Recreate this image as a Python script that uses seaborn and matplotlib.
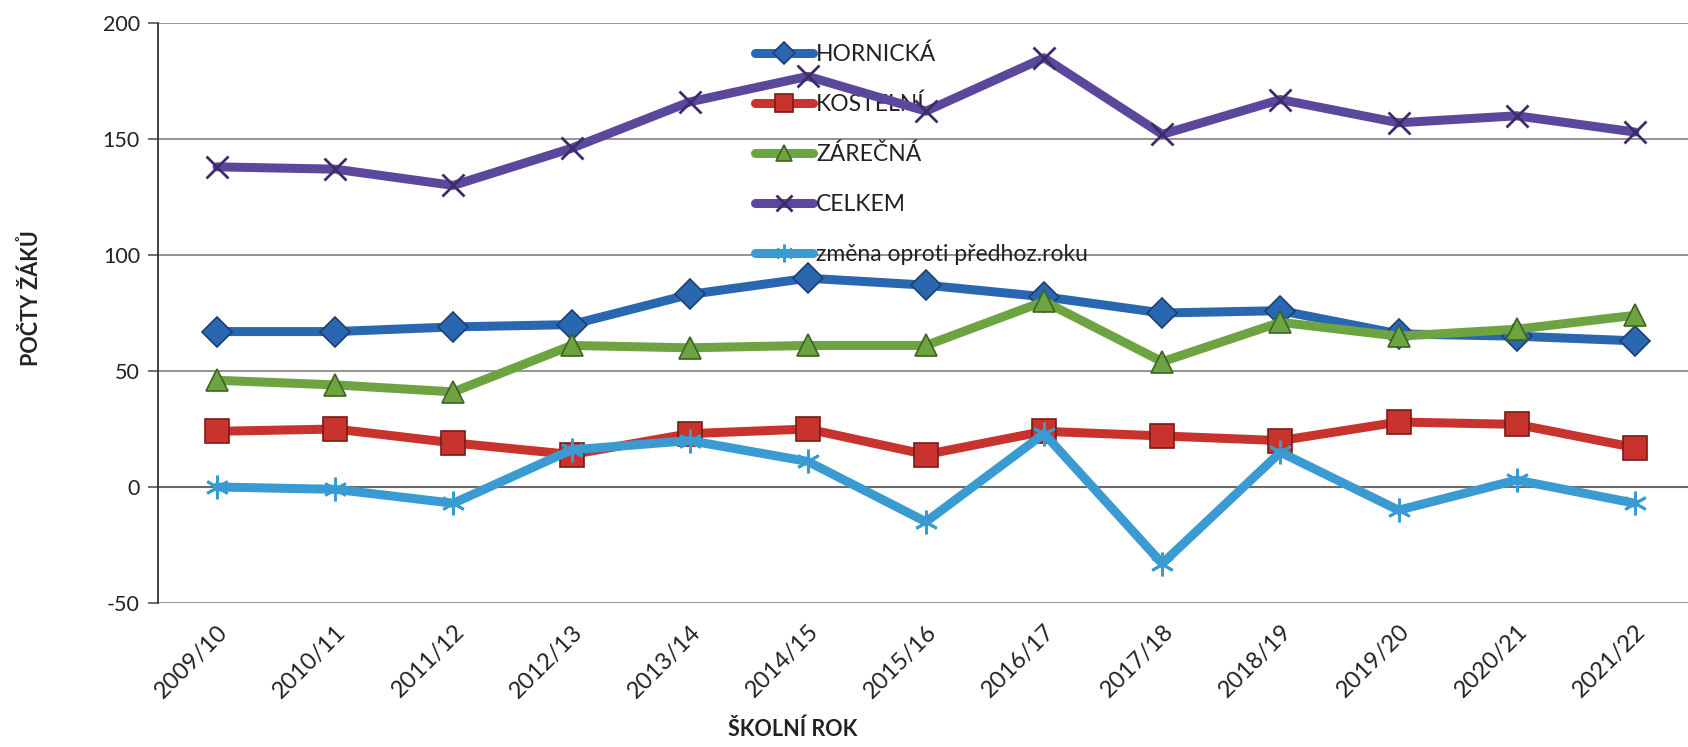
import matplotlib
matplotlib.use("Agg")
import matplotlib.pyplot as plt
import seaborn as sns
import pandas as pd

years = ["2009/10", "2010/11", "2011/12", "2012/13", "2013/14", "2014/15", "2015/16",
         "2016/17", "2017/18", "2018/19", "2019/20", "2020/21", "2021/22"]
hornicka = [67, 67, 69, 70, 83, 90, 87, 82, 75, 76, 66, 65, 63]
kostelni = [24, 25, 19, 14, 23, 25, 14, 24, 22, 20, 28, 27, 17]
zarecna = [46, 44, 41, 61, 60, 61, 61, 80, 54, 71, 65, 68, 74]
celkem = [138, 137, 130, 146, 166, 177, 162, 185, 152, 167, 157, 160, 153]
zmena = [0, -1, -7, 16, 20, 11, -15, 23, -33, 15, -10, 3, -7]

series_names = ["HORNICKÁ", "KOSTELNÍ", "ZÁREČNÁ", "CELKEM", "změna oproti předhoz.roku"]
series_vals = [hornicka, kostelni, zarecna, celkem, zmena]
colors = ["#2A67B1", "#C8332D", "#6EA342", "#5B479C", "#3A9BD2"]
edge = ["#1B3F73", "#7A1A16", "#3D6322", "#3B2D6A", "#2A7DB0"]
markers = ["D", "s", "^", "x", (6, 2, 0)]
msizes = [15, 17, 16, 16, 17]

sns.set_theme(style="white")
plt.rcParams["font.family"] = ["Lato", "DejaVu Sans"]
plt.rcParams["axes.unicode_minus"] = False

fig = plt.figure(figsize=(16.88, 7.47), dpi=100)
W, H = 1688, 747
x0, x1, ytop, ybot = 158, 1688, 23, 603
ax = fig.add_axes([x0 / W, 1 - ybot / H, (x1 - x0) / W, (ybot - ytop) / H])

for name, vals, c, ec, m, ms in zip(series_names, series_vals, colors, edge, markers, msizes):
    df = pd.DataFrame({"rok": years, "v": vals})
    if m in ("x", (6, 2, 0)):
        mkw = dict(markeredgecolor=ec if m == "x" else c, markeredgewidth=2.0)
    else:
        mkw = dict(markeredgecolor=ec, markeredgewidth=1.2)
    sns.lineplot(data=df, x="rok", y="v", ax=ax, color=c, lw=6.5, marker=m,
                 markersize=ms, sort=False, label=name, zorder=3, **mkw)

ax.set_ylim(-50, 200)
ax.set_xlim(-0.5, 12.45)
ax.set_yticks([-50, 0, 50, 100, 150, 200])
ax.yaxis.grid(True, color="#8a8a8a", lw=1.3)
ax.xaxis.grid(False)
ax.axhline(0, color="#6a6a6a", lw=1.5, zorder=1)
for s in ["top", "right", "bottom"]:
    ax.spines[s].set_visible(False)
ax.spines["left"].set_color("#333333")
ax.spines["left"].set_linewidth(1.3)
ax.tick_params(axis="y", left=True, length=7, width=1.2, color="#555555",
               labelsize=15.5, labelcolor="#222222", pad=6)
ax.tick_params(axis="x", bottom=False, labelsize=17, labelcolor="#222222", pad=7)
for lab in ax.get_xticklabels():
    lab.set_rotation(45)
    lab.set_ha("right")
    lab.set_rotation_mode("anchor")

ax.set_xlabel("ŠKOLNÍ ROK", fontsize=15.5, fontweight="bold", color="#222222")
ax.xaxis.set_label_coords((793 - x0) / (x1 - x0), -(719 - ybot) / (ybot - ytop))
ax.set_ylabel("POČTY ŽÁKŮ", fontsize=15.5, fontweight="bold", color="#222222")
ax.yaxis.set_label_coords(-(x0 - 42) / (x1 - x0), (ybot - 298) / (ybot - ytop))

leg = ax.legend(loc="upper left", bbox_to_anchor=(744 / W, 1 - 32 / H),
                bbox_transform=fig.transFigure, frameon=False, fontsize=16.5,
                handlelength=2.5, labelspacing=1.25, handletextpad=0.15, borderpad=0,
                markerscale=0.75)
leg.set_zorder(2)
for t in leg.get_texts():
    t.set_color("#222222")

fig.savefig("out.png", dpi=100)
